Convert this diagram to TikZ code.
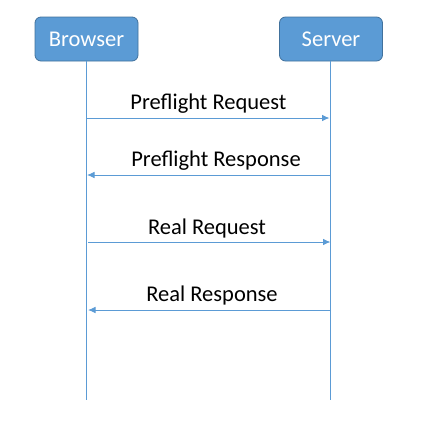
\documentclass[tikz,border=0pt]{standalone}
\usepackage{fontspec}
\setmainfont{Carlito}
\usetikzlibrary{arrows.meta}
\definecolor{ofblue}{HTML}{5B9BD5}
\definecolor{ofborder}{HTML}{41719C}
\begin{document}
\begin{tikzpicture}[x=1pt,y=-1pt,
  actor/.style={draw=ofborder,fill=ofblue,rounded corners=6pt,line width=0.8pt,text=white,
    minimum width=103pt,minimum height=44pt,inner sep=0pt,font=\fontsize{22.5}{26}\selectfont},
  life/.style={draw=ofblue,line width=0.9pt},
  msg/.style={draw=ofblue,line width=0.9pt,-{Latex[length=7.5pt,width=6.5pt]}},
  lbl/.style={font=\fontsize{22.5}{26}\selectfont,text=black,inner sep=0pt}]
\useasboundingbox (0,0) rectangle (425,426);
\node[actor] (b) at (86.5,39) {Browser};
\node[actor] (s) at (331,39) {Server};
\coordinate (btop) at (86.5,61);
\coordinate (stop) at (330,61);
\coordinate (bend) at (86.5,400);
\coordinate (send) at (330,400);
\draw[life] (btop) -- (bend);
\draw[life] (stop) -- (send);
\coordinate (b1) at (87,118); \coordinate (s1) at (329.5,118);
\coordinate (b2) at (87,175); \coordinate (s2) at (329.5,175);
\coordinate (b3) at (88,242); \coordinate (s3) at (330.5,242);
\coordinate (b4) at (88,310); \coordinate (s4) at (331,310);
\draw[msg] (b1) -- (s1);
\draw[msg] (s2) -- (b2);
\draw[msg] (b3) -- (s3);
\draw[msg] (s4) -- (b4);
\node[lbl] (l1) at (208.5,103.5) {Preflight Request};
\node[lbl] (l2) at (216,160.5) {Preflight Response};
\node[lbl] (l3) at (207,228.5) {Real Request};
\node[lbl] (l4) at (212,295.5) {Real Response};
\end{tikzpicture}
\end{document}
